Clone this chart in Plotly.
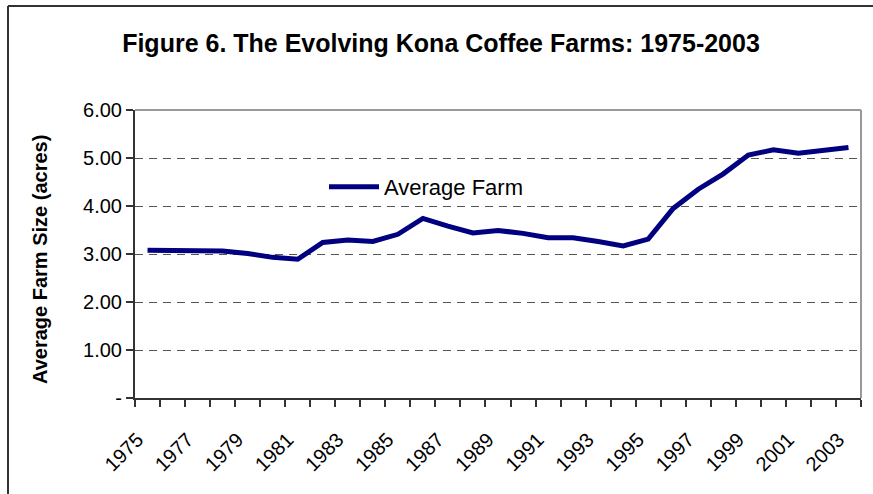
import plotly.graph_objects as go

years = list(range(1975, 2004))
avg_farm_size = [3.08, 3.08, 3.08, 3.06, 3.01, 2.93, 2.89, 3.24, 3.29, 3.26,
                 3.41, 3.74, 3.58, 3.44, 3.49, 3.43, 3.34, 3.34, 3.26, 3.17,
                 3.31, 3.95, 4.35, 4.67, 5.06, 5.17, 5.10, 5.15, 5.22]
y_tickvals = [0, 1, 2, 3, 4, 5, 6]
y_ticktext = ["-", "1.00", "2.00", "3.00", "4.00", "5.00", "6.00"]
x_label_years = years[::2]

W, H = 873, 494
ML, MR, MT, MB = 135, 12, 110, 96
PW, PH = W - ML - MR, H - MT - MB

FONT = "Liberation Sans, Arial, sans-serif"

fig = go.Figure()
fig.add_trace(go.Scatter(
    x=years, y=avg_farm_size, mode="lines", name="Average Farm",
    line=dict(color="#000080", width=5),
))

def px_x(p):
    return (p - ML) / PW

def px_y(p):
    return (H - MB - p) / PH

shapes = [
    dict(type="line", xref="paper", yref="paper", x0=0, x1=1, y0=1, y1=1,
         line=dict(color="#999999", width=2)),
    dict(type="line", xref="paper", yref="paper", x0=1, x1=1, y0=0, y1=1,
         line=dict(color="#999999", width=2)),
    dict(type="line", xref="paper", yref="paper", x0=px_x(8), x1=px_x(880),
         y0=px_y(6), y1=px_y(6), line=dict(color="#333333", width=2)),
    dict(type="line", xref="paper", yref="paper", x0=px_x(8), x1=px_x(8),
         y0=px_y(6), y1=px_y(500), line=dict(color="#333333", width=2)),
]

fig.update_layout(
    width=W, height=H,
    margin=dict(l=ML, r=MR, t=MT, b=MB),
    paper_bgcolor="white", plot_bgcolor="white",
    font=dict(family=FONT, color="black"),
    title=dict(text="<b>Figure 6. The Evolving Kona Coffee Farms: 1975-2003</b>",
               x=441 / W, xanchor="center", y=1 - 43 / H, yanchor="middle",
               font=dict(size=25, family=FONT, color="black")),
    showlegend=True,
    legend=dict(x=px_x(324), y=px_y(187), xanchor="left", yanchor="middle",
                bgcolor="rgba(0,0,0,0)", font=dict(size=22, family=FONT),
                itemwidth=50),
    shapes=shapes,
    annotations=[dict(text="<b>Average Farm Size (acres)</b>", textangle=-90,
                      xref="paper", yref="paper", x=px_x(40), y=px_y(260),
                      xanchor="center", yanchor="middle", showarrow=False,
                      font=dict(size=20, family=FONT, color="black"))],
)

fig.update_xaxes(
    range=[1974.5, 2003.5], tickmode="array", tickvals=x_label_years,
    ticktext=[str(y) for y in x_label_years], tickangle=-45,
    ticks="", showgrid=False, showline=True, linecolor="#333333", linewidth=2,
    tickfont=dict(size=20, family=FONT, color="black"),
    ticklabelstandoff=20, ticklabelshift=-10,
    zeroline=False,
    minor=dict(tickmode="array", tickvals=[y - 0.5 for y in years] + [2003.5],
               ticks="outside", ticklen=7, tickcolor="#333333", tickwidth=1.5,
               showgrid=False),
)
fig.update_yaxes(
    range=[0, 6], tickmode="array", tickvals=y_tickvals, ticktext=y_ticktext,
    ticks="outside", ticklen=7, tickcolor="#333333", tickwidth=1.5,
    showline=True, linecolor="#333333", linewidth=2,
    showgrid=True, gridcolor="#555555", griddash="8px,6px", gridwidth=1,
    zeroline=False,
    tickfont=dict(size=20, family=FONT, color="black"),
)

fig.write_html("out.html", config={"displayModeBar": False},
               post_script="document.body.style.margin='0';"
                           "document.body.style.overflow='hidden';")
